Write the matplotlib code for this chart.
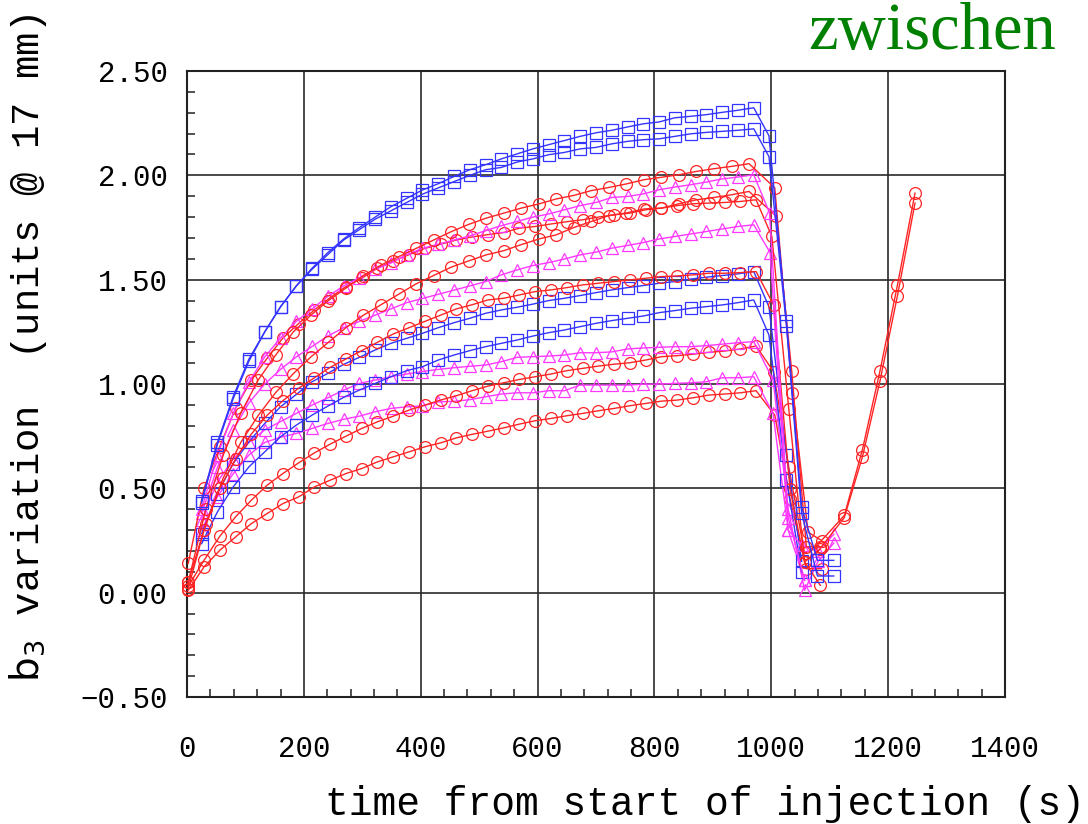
import numpy as np
import matplotlib.pyplot as plt
from matplotlib.ticker import MultipleLocator, FuncFormatter

# sampling times (s)
t27_blue = [25, 52, 79, 106, 133, 160, 187, 214, 241, 268, 295, 322, 349, 376, 403, 430, 457, 484,
            511, 538, 565, 592, 619, 646, 673, 700, 727, 754, 781, 808, 835, 862, 889, 916, 943, 970]
t27_red = [2, 29, 56, 83, 110, 137, 164, 191, 218, 245, 272, 299, 326, 353, 380, 407, 434, 461, 488,
           515, 542, 569, 596, 623, 650, 677, 704, 731, 758, 785, 812, 839, 866, 893, 920, 947, 974]
t30_red = [2, 32, 62, 92, 122, 152, 182, 212, 242, 272, 302, 332, 362, 392, 422, 452, 482,
           512, 542, 572, 602, 632, 662, 692, 722, 752, 782, 812, 842, 872, 902, 932, 962]

# blue squares
blue_a = [0.44, 0.72, 0.94, 1.12, 1.25, 1.37, 1.47, 1.555, 1.63, 1.695, 1.75, 1.80, 1.85, 1.89, 1.93, 1.96, 1.995, 2.027,
          2.051, 2.079, 2.103, 2.127, 2.147, 2.167, 2.187, 2.204, 2.216, 2.232, 2.247, 2.256, 2.276, 2.283, 2.291, 2.302, 2.312, 2.324]
blue_a_tail_t = [996, 1026, 1052, 1079, 1107]
blue_a_tail = [2.19, 1.30, 0.41, 0.155, 0.155]

blue_b = [0.43, 0.71, 0.93, 1.11, 1.25, 1.37, 1.47, 1.55, 1.62, 1.69, 1.74, 1.79, 1.83, 1.87, 1.91, 1.94, 1.97, 2.00,
          2.027, 2.038, 2.064, 2.079, 2.099, 2.110, 2.127, 2.134, 2.151, 2.163, 2.171, 2.175, 2.187, 2.199, 2.206, 2.211, 2.216, 2.223]
blue_b_tail_t = [996, 1026, 1052, 1079, 1107]
blue_b_tail = [2.09, 1.28, 0.38, 0.08, 0.08]

blue_c = [0.283, 0.475, 0.619, 0.723, 0.811, 0.891, 0.950, 1.011, 1.051, 1.094, 1.128, 1.163, 1.195, 1.219, 1.243, 1.270, 1.294, 1.315,
          1.339, 1.355, 1.368, 1.383, 1.400, 1.411, 1.424, 1.438, 1.451, 1.462, 1.472, 1.483, 1.491, 1.503, 1.512, 1.520, 1.528, 1.539]
blue_c_tail_t = [996, 1026, 1052]
blue_c_tail = [1.37, 0.66, 0.15]

blue_d = [0.235, 0.387, 0.507, 0.603, 0.675, 0.747, 0.803, 0.851, 0.894, 0.936, 0.971, 1.003, 1.035, 1.064, 1.083, 1.115, 1.139, 1.160,
          1.179, 1.195, 1.211, 1.230, 1.246, 1.259, 1.275, 1.291, 1.304, 1.315, 1.326, 1.342, 1.352, 1.363, 1.371, 1.379, 1.390, 1.403]
blue_d_tail_t = [996, 1026, 1052]
blue_d_tail = [1.235, 0.54, 0.10]

# magenta triangles
mag_g = [0.40, 0.66, 0.86, 1.01, 1.13, 1.22, 1.30, 1.36, 1.42, 1.47, 1.51, 1.55, 1.58, 1.62, 1.65, 1.67, 1.69, 1.71,
         1.735, 1.759, 1.779, 1.800, 1.815, 1.835, 1.855, 1.870, 1.894, 1.899, 1.911, 1.931, 1.944, 1.955, 1.968, 1.983, 1.992, 2.003]
mag_g_tail_t = [997, 1029, 1057]
mag_g_tail = [1.82, 0.36, 0.06]

mag_i = [0.38, 0.60, 0.78, 0.91, 1.00, 1.07, 1.13, 1.18, 1.23, 1.27, 1.30, 1.33, 1.36, 1.39, 1.41, 1.43, 1.45, 1.47,
         1.491, 1.523, 1.547, 1.568, 1.582, 1.599, 1.619, 1.632, 1.651, 1.664, 1.678, 1.695, 1.707, 1.719, 1.731, 1.743, 1.755, 1.763]
mag_i_tail_t = [998, 1029, 1052, 1080, 1107]
mag_i_tail = [1.63, 0.30, 0.227, 0.20, 0.28]

mag_k = [0.35, 0.53, 0.64, 0.72, 0.78, 0.82, 0.859, 0.899, 0.934, 0.971, 1.003, 1.019, 1.035, 1.048, 1.060, 1.070, 1.078, 1.085,
         1.091, 1.107, 1.128, 1.131, 1.134, 1.139, 1.150, 1.150, 1.154, 1.168, 1.173, 1.176, 1.179, 1.179, 1.184, 1.191, 1.198, 1.203]
mag_k_tail_t = [1003, 1029, 1057, 1080, 1107]
mag_k_tail = [1.02, 0.40, 0.011, 0.15, 0.238]

mag_m = [0.30, 0.46, 0.57, 0.66, 0.72, 0.745, 0.763, 0.787, 0.811, 0.831, 0.846, 0.867, 0.883, 0.891, 0.895, 0.915, 0.917, 0.925,
         0.939, 0.952, 0.958, 0.958, 0.968, 0.968, 0.995, 0.995, 0.995, 0.995, 0.999, 1.000, 1.003, 1.006, 1.011, 1.030, 1.030, 1.035]
mag_m_tail_t = [1003, 1029, 1057]
mag_m_tail = [0.859, 0.299, 0.059]

# red circles, 30 s sampling (these two are followed through the ramp)
red_e = [0.05, 0.40, 0.66, 0.86, 1.02, 1.14, 1.25, 1.33, 1.40, 1.46, 1.52, 1.57, 1.61, 1.65, 1.69, 1.73, 1.765,
         1.795, 1.819, 1.843, 1.863, 1.887, 1.904, 1.927, 1.942, 1.959, 1.979, 1.991, 2.003, 2.019, 2.032, 2.043, 2.056]
red_e_tail_t = [1006, 1036, 1063, 1086, 1125, 1156, 1186, 1216, 1246]
red_e_tail = [1.94, 0.955, 0.29, 0.25, 0.37, 0.686, 1.062, 1.475, 1.915]

red_f = [0.02, 0.33, 0.55, 0.72, 0.85, 0.96, 1.05, 1.13, 1.20, 1.27, 1.33, 1.38, 1.43, 1.48, 1.52, 1.56, 1.59,
         1.619, 1.639, 1.668, 1.695, 1.715, 1.750, 1.779, 1.807, 1.820, 1.839, 1.843, 1.864, 1.883, 1.894, 1.907, 1.923]
red_f_tail_t = [1008, 1035, 1060, 1086, 1125, 1156, 1186, 1216, 1246]
red_f_tail = [1.806, 1.062, 0.22, 0.22, 0.36, 0.651, 1.014, 1.424, 1.867]

# red circles, 27 s sampling
red_h = [0.14, 0.50, 0.70, 0.883, 1.020, 1.123, 1.22, 1.29, 1.355, 1.414, 1.467, 1.507, 1.555, 1.59, 1.62, 1.65, 1.67, 1.69, 1.705,
         1.716, 1.726, 1.747, 1.755, 1.767, 1.778, 1.787, 1.800, 1.811, 1.819, 1.835, 1.843, 1.855, 1.864, 1.867, 1.870, 1.875, 1.883]
red_h_tail_t = [1001, 1030, 1057, 1084]
red_h_tail = [1.707, 0.879, 0.147, 0.21]

red_j = [0.05, 0.30, 0.50, 0.64, 0.76, 0.85, 0.92, 0.98, 1.03, 1.08, 1.12, 1.16, 1.20, 1.24, 1.27, 1.30, 1.33, 1.36, 1.38,
         1.403, 1.411, 1.427, 1.443, 1.451, 1.462, 1.475, 1.483, 1.491, 1.499, 1.507, 1.515, 1.518, 1.523, 1.531, 1.531, 1.534, 1.539]
red_j_tail_t = [1004, 1032, 1057, 1084]
red_j_tail = [1.379, 0.499, 0.147, 0.035]

red_l = [0.03, 0.155, 0.27, 0.363, 0.443, 0.515, 0.571, 0.622, 0.670, 0.712, 0.750, 0.787, 0.819, 0.846, 0.875, 0.899, 0.923, 0.944, 0.968,
         0.990, 1.006, 1.022, 1.035, 1.048, 1.064, 1.075, 1.086, 1.095, 1.102, 1.115, 1.131, 1.136, 1.143, 1.152, 1.158, 1.168, 1.182]
red_l_tail_t = [1004, 1030, 1057, 1083]
red_l_tail = [1.059, 0.60, 0.19, 0.219]

red_n = [0.011, 0.123, 0.203, 0.267, 0.331, 0.379, 0.427, 0.459, 0.507, 0.539, 0.571, 0.595, 0.627, 0.651, 0.675, 0.699, 0.718, 0.742, 0.759,
         0.774, 0.790, 0.808, 0.824, 0.835, 0.848, 0.859, 0.872, 0.883, 0.896, 0.907, 0.918, 0.923, 0.934, 0.947, 0.952, 0.958, 0.968]
red_n_tail_t = [1006, 1032, 1060, 1086]
red_n_tail = [0.851, 0.45, 0.115, 0.115]

BLUE = "#3434ff"
RED = "#ff2424"
MAGENTA = "#ff38ff"

series = [
    (t27_red, red_n, red_n_tail_t, red_n_tail, RED, "o"),
    (t27_blue, mag_m, mag_m_tail_t, mag_m_tail, MAGENTA, "^"),
    (t27_red, red_l, red_l_tail_t, red_l_tail, RED, "o"),
    (t27_blue, mag_k, mag_k_tail_t, mag_k_tail, MAGENTA, "^"),
    (t27_blue, blue_d, blue_d_tail_t, blue_d_tail, BLUE, "s"),
    (t27_blue, blue_c, blue_c_tail_t, blue_c_tail, BLUE, "s"),
    (t27_red, red_j, red_j_tail_t, red_j_tail, RED, "o"),
    (t27_blue, mag_i, mag_i_tail_t, mag_i_tail, MAGENTA, "^"),
    (t27_red, red_h, red_h_tail_t, red_h_tail, RED, "o"),
    (t30_red, red_f, red_f_tail_t, red_f_tail, RED, "o"),
    (t27_blue, mag_g, mag_g_tail_t, mag_g_tail, MAGENTA, "^"),
    (t30_red, red_e, red_e_tail_t, red_e_tail, RED, "o"),
    (t27_blue, blue_b, blue_b_tail_t, blue_b_tail, BLUE, "s"),
    (t27_blue, blue_a, blue_a_tail_t, blue_a_tail, BLUE, "s"),
]

MONO = ["Liberation Mono", "DejaVu Sans Mono"]

fig = plt.figure(figsize=(10.88, 8.24), dpi=100)
ax = fig.add_axes([0.1719, 0.1541, 0.7518, 0.7597])

for t, v, tt, tv, col, mk in series:
    ax.plot(list(t) + tt, list(v) + tv, color=col, marker=mk, lw=1.0,
            ms=8.5 if mk != "^" else 9, mfc="none", mec=col, mew=0.9, clip_on=False, zorder=3)

ax.set_xlim(0, 1400)
ax.set_ylim(-0.5, 2.5)
ax.xaxis.set_major_locator(MultipleLocator(200))
ax.xaxis.set_minor_locator(MultipleLocator(40))
ax.yaxis.set_major_locator(MultipleLocator(0.5))
ax.yaxis.set_minor_locator(MultipleLocator(0.1))
ax.yaxis.set_major_formatter(FuncFormatter(lambda v, p: f"{v:.2f}".replace("-", "\u2212")))
ax.grid(True, which="major", color="#2a2a2a", lw=1.2)
ax.tick_params(which="both", direction="in", top=False, right=False)
ax.tick_params(which="major", length=0)
ax.tick_params(which="minor", length=6, width=1.2, color="#333333")
ax.tick_params(axis="y", which="major", pad=14)
ax.tick_params(axis="x", which="major", pad=27)
for lab in ax.get_xticklabels() + ax.get_yticklabels():
    lab.set_family(MONO)
    lab.set_fontsize(21)
for sp in ax.spines.values():
    sp.set_linewidth(1.5)
    sp.set_color("#222222")

fig.text(0.026, 0.578, r"$\mathrm{b}_3$ variation  (units @ 17 mm)", family=MONO,
         fontsize=28, rotation=90, ha="center", va="center")
fig.text(0.648, 0.024, "time from start of injection (s)", family=MONO,
         fontsize=28.5, ha="center", va="center")
fig.text(0.743, 0.941, "zwischen", family=["Liberation Serif", "DejaVu Serif"],
         fontsize=48, color="green", ha="left", va="baseline")

fig.savefig("out.png", dpi=100)
